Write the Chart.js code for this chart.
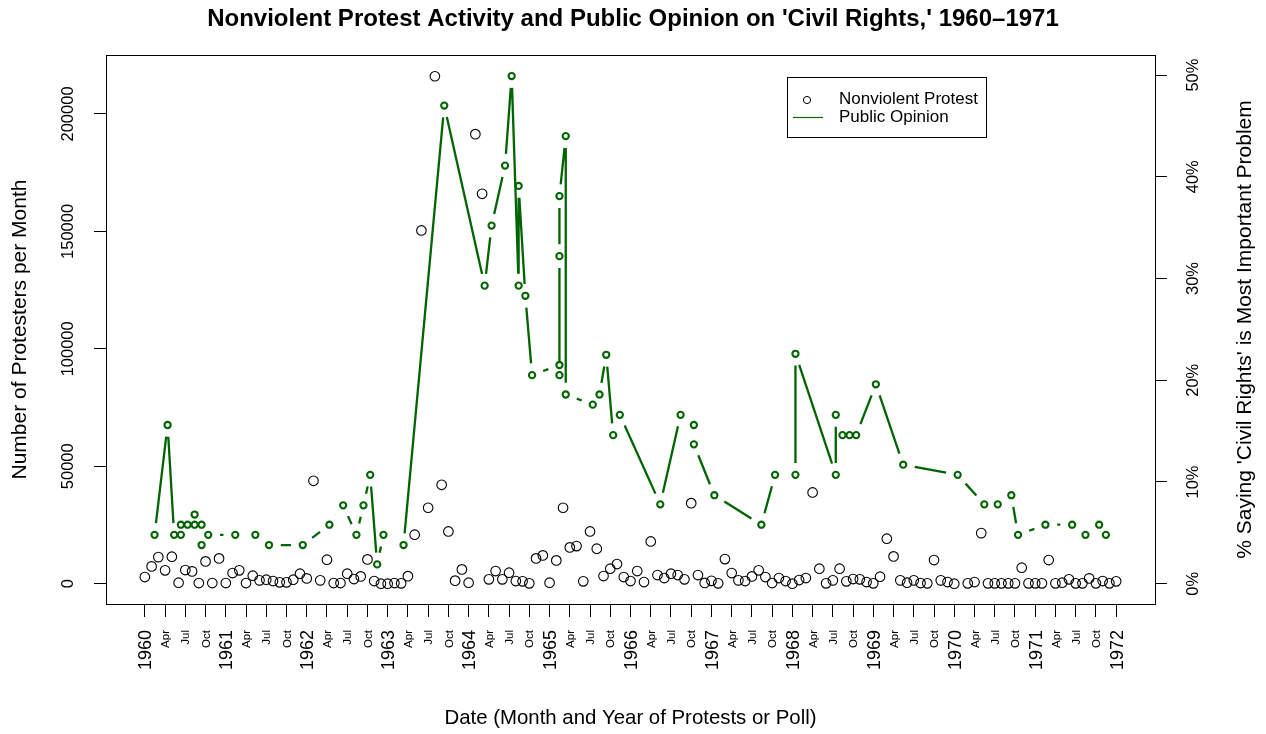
<!DOCTYPE html>
<html>
<head>
<meta charset="utf-8">
<script src="https://cdn.jsdelivr.net/npm/chart.js@4.4.1/dist/chart.umd.min.js"></script>
<style>
html,body{margin:0;padding:0;background:#fff;}
#wrap{width:1266px;height:734px;position:relative;}
</style>
</head>
<body>
<div id="wrap"><canvas id="c"></canvas></div>
<script>
// ---------------- data ----------------
const chartTitle = "Nonviolent Protest Activity and Public Opinion on 'Civil Rights,' 1960\u20131971";
const xTitle = "Date (Month and Year of Protests or Poll)";
const yTitle = "Number of Protesters per Month";
const y2Title = "% Saying 'Civil Rights' is Most Important Problem";
const legendLabels = ["Nonviolent Protest", "Public Opinion"];

// monthly protest counts, Jan 1960 ... Jan 1972
const protestFirstYear = 1960;
const protestCounts = [
  2800, 7360, 11300, 5660, 11480, 425, 5780, 5230, 255, 9480, 255, 10760,
  255, 4510, 5660, 255, 3400, 1400, 1700, 1100, 550, 550, 1700, 4250,
  2250, 43800, 1400, 10200, 255, 255, 4250, 1960, 3100, 10330, 1100, 0,
  0, 255, 130, 3200, 20840, 150400, 32320, 216050, 42100, 22240, 1280, 6080,
  425, 191400, 166000, 1830, 5360, 1830, 4680, 1100, 980, 130, 10760, 12040,
  425, 9910, 32320, 15440, 15990, 980, 22240, 14890, 3230, 6380, 8340, 2800,
  1100, 5360, 680, 17990, 3660, 2380, 4250, 3660, 1830, 34280, 3660, 300,
  1200, 130, 10460, 4510, 1400, 1100, 3100, 5660, 2800, 255, 2380, 1100,
  0, 1530, 2380, 38830, 6380, 130, 1400, 6380, 980, 1960, 1830, 680,
  130, 2980, 19140, 11610, 1400, 425, 1400, 255, 130, 10040, 1400, 680,
  0, null, 130, 680, 21520, 130, 130, 130, 130, 130, 6800, 130,
  130, 130, 10040, 130, 425, 1830, 130, 130, 2250, 130, 1100, 130,
  980
];

// poll dates (decimal years) and percent naming civil rights
const pollDates = [
  1960.120, 1960.281, 1960.362, 1960.445, 1960.445, 1960.528, 1960.615, 1960.615, 1960.701, 1960.701,
  1960.783, 1961.117, 1961.365, 1961.534, 1961.951, 1962.280, 1962.450, 1962.614, 1962.701, 1962.784,
  1962.870, 1962.948, 1963.196, 1963.699, 1964.198, 1964.284, 1964.450, 1964.532, 1964.618, 1964.618,
  1964.701, 1964.784, 1965.122, 1965.122, 1965.122, 1965.122, 1965.200, 1965.200, 1965.534, 1965.617,
  1965.700, 1965.786, 1965.868, 1966.368, 1966.619, 1966.783, 1966.783, 1967.036, 1967.617, 1967.786,
  1968.038, 1968.038, 1968.536, 1968.536, 1968.619, 1968.706, 1968.788, 1969.031, 1969.369, 1970.042,
  1970.371, 1970.537, 1970.705, 1970.788, 1971.126, 1971.456, 1971.621, 1971.790, 1971.873
];
const pollPercent = [
  4.8, 15.6, 4.8, 4.8, 5.8, 5.8, 5.8, 6.8, 5.8, 3.8,
  4.8, 4.8, 4.8, 3.8, 3.8, 5.8, 7.7, 4.8, 7.7, 10.7,
  1.9, 4.8, 3.8, 47.0, 29.3, 35.2, 41.1, 49.9, 29.3, 39.1,
  28.3, 20.5, 21.5, 20.5, 32.2, 38.1, 44.0, 18.6, 17.6, 18.6,
  22.5, 14.6, 16.6, 7.8, 16.6, 15.6, 13.7, 8.7, 5.8, 10.7,
  10.7, 22.6, 10.7, 16.6, 14.6, 14.6, 14.6, 19.6, 11.7, 10.7,
  7.8, 7.8, 8.7, 4.8, 5.8, 5.8, 4.8, 5.8, 4.8
];

// tick values / labels
const yearTicks = [1960,1961,1962,1963,1964,1965,1966,1967,1968,1969,1970,1971,1972];
const quarterNames = ["Apr", "Jul", "Oct"];
const leftTicks = [0, 50000, 100000, 150000, 200000];
const rightTicks = [0, 10, 20, 30, 40, 50];
const rightTickLabels = ["0%", "10%", "20%", "30%", "40%", "50%"];

// ---------------- build ----------------
const GREEN = "#006400";
const FONT = "'Liberation Sans', Arial, Helvetica, sans-serif";
Chart.defaults.font.family = FONT;
Chart.defaults.color = "#000";

const xTicks = [];
yearTicks.forEach(y => {
  xTicks.push({value: y, label: String(y), major: true});
  if (y < yearTicks[yearTicks.length - 1]) {
    quarterNames.forEach((q, k) => xTicks.push({value: y + (k + 1) * 0.25, label: q, major: false}));
  }
});

const protestPoints = protestCounts.map((v, i) => ({x: protestFirstYear + i / 12, y: v}));
const pollPoints = pollDates.map((d, i) => ({x: d, y: pollPercent[i]}));

const gapLines = {
  id: 'gapLines',
  afterDatasetsDraw(chart) {
    const pts = chart.getDatasetMeta(1).data;
    const ctx = chart.ctx, a = chart.chartArea, g = 11.8;
    ctx.save();
    ctx.beginPath(); ctx.rect(a.left, a.top, a.right - a.left, a.bottom - a.top); ctx.clip();
    ctx.strokeStyle = GREEN; ctx.lineWidth = 2.3; ctx.lineCap = 'butt';
    ctx.beginPath();
    for (let i = 1; i < pts.length; i++) {
      const p = pts[i - 1], q = pts[i];
      const dx = q.x - p.x, dy = q.y - p.y, d = Math.hypot(dx, dy);
      if (d <= 2 * g) continue;
      const ux = dx / d, uy = dy / d;
      ctx.moveTo(p.x + ux * g, p.y + uy * g);
      ctx.lineTo(q.x - ux * g, q.y - uy * g);
    }
    ctx.stroke();
    ctx.restore();
  }
};

const decorations = {
  id: 'decorations',
  afterDraw(chart) {
    const ctx = chart.ctx, a = chart.chartArea;
    const xs = chart.scales.x, ys = chart.scales.y, ys2 = chart.scales.y2;
    ctx.save();
    // box
    ctx.strokeStyle = '#000'; ctx.lineWidth = 1;
    ctx.strokeRect(Math.round(a.left) + 0.5, Math.round(a.top) + 0.5,
                   Math.round(a.right - a.left), Math.round(a.bottom - a.top));
    ctx.fillStyle = '#000';
    // x tick labels (rotated)
    xTicks.forEach(t => {
      const px = xs.getPixelForValue(t.value);
      const size = t.major ? 18 : 11.5;
      ctx.save();
      ctx.font = size + 'px ' + FONT;
      ctx.translate(px + size * 0.36, a.bottom + 26);
      ctx.rotate(-Math.PI / 2);
      ctx.textAlign = 'right'; ctx.textBaseline = 'alphabetic';
      ctx.fillText(t.label, 0, 0);
      ctx.restore();
    });
    // left y tick labels
    leftTicks.forEach(v => {
      const py = ys.getPixelForValue(v);
      ctx.save();
      ctx.font = '16.5px ' + FONT;
      ctx.translate(a.left - 33.5, py);
      ctx.rotate(-Math.PI / 2);
      ctx.textAlign = 'center'; ctx.textBaseline = 'alphabetic';
      ctx.fillText(String(v), 0, 0);
      ctx.restore();
    });
    // right y tick labels
    rightTicks.forEach((v, i) => {
      const py = ys2.getPixelForValue(v);
      ctx.save();
      ctx.font = '16.5px ' + FONT;
      ctx.translate(a.right + 43, py);
      ctx.rotate(-Math.PI / 2);
      ctx.textAlign = 'center'; ctx.textBaseline = 'alphabetic';
      ctx.fillText(rightTickLabels[i], 0, 0);
      ctx.restore();
    });
    // right axis title
    ctx.save();
    ctx.font = '21px ' + FONT;
    ctx.translate(a.right + 95.5, (a.top + a.bottom) / 2);
    ctx.rotate(-Math.PI / 2);
    ctx.textAlign = 'center'; ctx.textBaseline = 'alphabetic';
    ctx.fillText(y2Title, 0, 0);
    ctx.restore();
    // legend
    const lx = a.left + 681, ly = a.top + 22;
    ctx.lineWidth = 1; ctx.strokeStyle = '#000';
    ctx.fillStyle = '#fff';
    ctx.fillRect(lx + 0.5, ly + 0.5, 199, 60);
    ctx.strokeRect(lx + 0.5, ly + 0.5, 199, 60);
    ctx.beginPath(); ctx.arc(lx + 20, ly + 23, 3.6, 0, Math.PI * 2); ctx.stroke();
    ctx.strokeStyle = GREEN; ctx.lineWidth = 1.2;
    ctx.beginPath(); ctx.moveTo(lx + 6, ly + 40.5); ctx.lineTo(lx + 36, ly + 40.5); ctx.stroke();
    ctx.fillStyle = '#000';
    ctx.font = '17px ' + FONT;
    ctx.textAlign = 'left'; ctx.textBaseline = 'middle';
    ctx.fillText(legendLabels[0], lx + 52, ly + 22);
    ctx.fillText(legendLabels[1], lx + 52, ly + 40.5);
    ctx.restore();
  }
};

new Chart(document.getElementById('c'), {
  type: 'scatter',
  data: {
    datasets: [
      {
        label: legendLabels[0], data: protestPoints, yAxisID: 'y',
        pointStyle: 'circle', pointRadius: 4.8, pointHoverRadius: 4.8,
        borderColor: '#000', backgroundColor: 'rgba(0,0,0,0)', pointBorderWidth: 1.1,
        showLine: false
      },
      {
        label: legendLabels[1], data: pollPoints, yAxisID: 'y2',
        pointStyle: 'circle', pointRadius: 3.1, pointHoverRadius: 3.1,
        borderColor: GREEN, backgroundColor: 'rgba(0,0,0,0)', pointBorderWidth: 2.1,
        showLine: false
      }
    ]
  },
  options: {
    responsive: true, maintainAspectRatio: false, animation: false,
    layout: {padding: 0},
    events: [],
    plugins: {
      legend: {display: false},
      tooltip: {enabled: false},
      title: {
        display: true, text: chartTitle, color: '#000',
        font: {family: FONT, size: 24, weight: 'bold', lineHeight: 1.2},
        padding: {top: 4.5, bottom: 21.7}
      }
    },
    scales: {
      x: {
        type: 'linear', position: 'bottom', min: 1959.52, max: 1972.48,
        afterBuildTicks: s => { s.ticks = xTicks.map(t => ({value: t.value})); },
        ticks: {display: false},
        grid: {drawOnChartArea: false, drawTicks: true, tickLength: 13, color: '#000', lineWidth: 1},
        border: {display: false},
        title: {display: true, text: xTitle, color: '#000', font: {family: FONT, size: 20.4, lineHeight: 1.2}, padding: {top: 0, bottom: 3}},
        afterFit: s => { s.height = 130; }
      },
      y: {
        type: 'linear', position: 'left', min: -8660, max: 225100,
        afterBuildTicks: s => { s.ticks = leftTicks.map(v => ({value: v})); },
        ticks: {display: false},
        grid: {drawOnChartArea: false, drawTicks: true, tickLength: 12, color: '#000', lineWidth: 1},
        border: {display: false},
        title: {display: true, text: yTitle, color: '#000', font: {family: FONT, size: 21, lineHeight: 1.2}, padding: {top: 7.5, bottom: 0}},
        afterFit: s => { s.width = 106; }
      },
      y2: {
        type: 'linear', position: 'right', min: -1.995, max: 51.97,
        afterBuildTicks: s => { s.ticks = rightTicks.map(v => ({value: v})); },
        ticks: {display: false},
        grid: {drawOnChartArea: false, drawTicks: true, tickLength: 12, color: '#000', lineWidth: 1},
        border: {display: false},
        afterFit: s => { s.width = 111; }
      }
    }
  },
  plugins: [gapLines, decorations]
});
</script>
</body>
</html>
